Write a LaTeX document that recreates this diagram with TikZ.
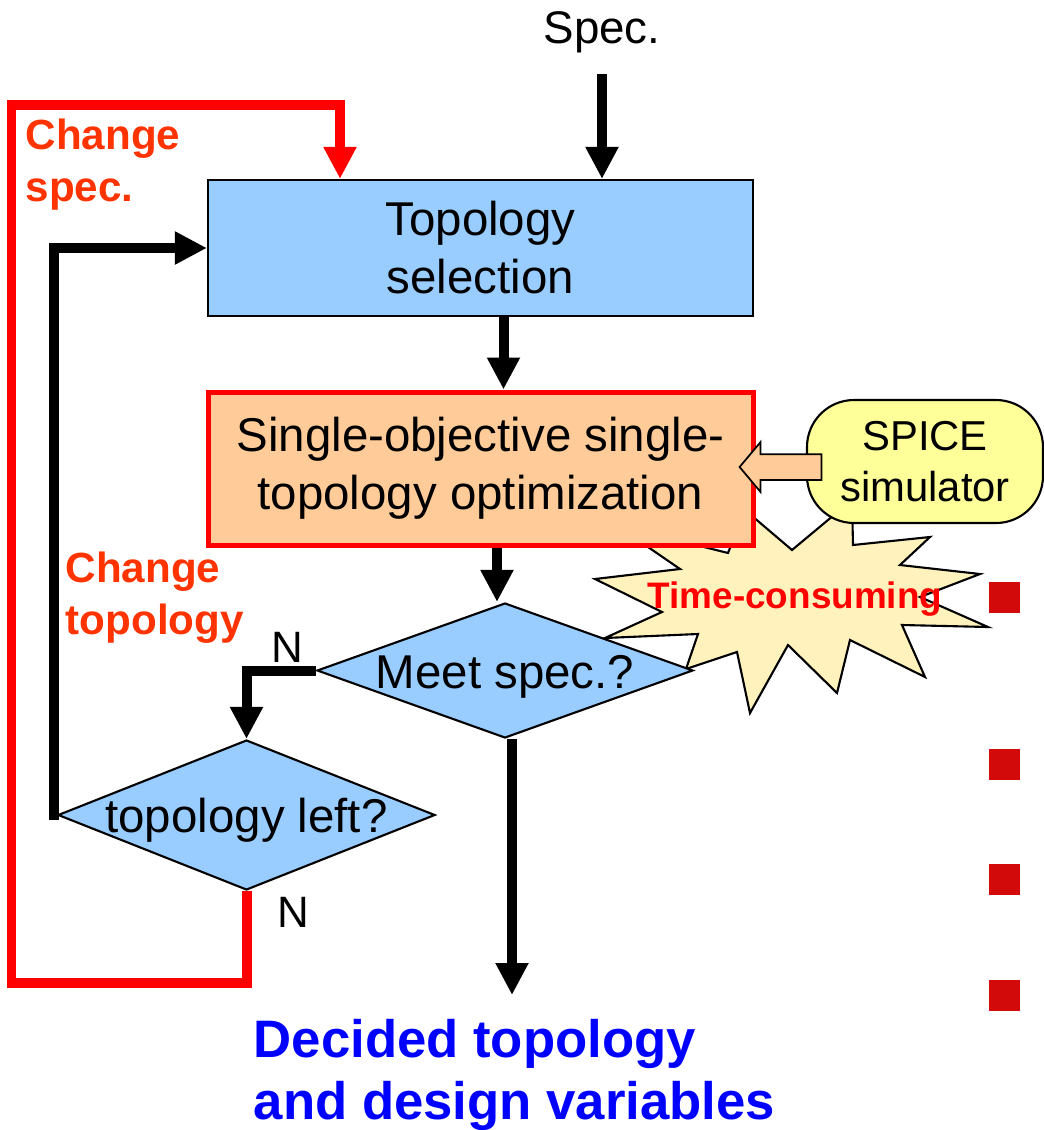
\documentclass[tikz,border=0pt]{standalone}
\usepackage{fontspec}
\setmainfont{Liberation Sans}
\usepackage{tikz}
\usetikzlibrary{arrows.meta, shapes.geometric, shapes.arrows, positioning}
\definecolor{boxblue}{RGB}{153,204,255}
\definecolor{boxpeach}{RGB}{255,204,153}
\definecolor{simyellow}{RGB}{255,255,153}
\definecolor{burst}{RGB}{255,242,189}
\definecolor{labelred}{RGB}{255,51,0}
\definecolor{bulletred}{RGB}{210,10,10}
\tikzset{process/.style={rectangle, draw=black, line width=0.6pt, fill=boxblue, minimum width=54.5mm, align=center, font=\fontsize{13.5pt}{16.5pt}\selectfont}}
\tikzset{decision/.style={diamond, draw=black, line width=0.6pt, fill=boxblue, inner sep=0pt, aspect=2.7, text height=10pt, text depth=0pt, font=\fontsize{13.5pt}{16.5pt}\selectfont}}
\tikzset{tool/.style={rectangle, rounded corners=4.7mm, draw=black, line width=0.6pt, fill=simyellow, minimum width=23.6mm, minimum height=12.3mm, align=center, font=\fontsize{11.9pt}{14.5pt}\selectfont}}
\tikzset{feed/.style={single arrow, draw=black, line width=0.5pt, fill=boxpeach, shape border rotate=180, minimum height=8.2mm, inner sep=1.2mm, single arrow head extend=1.2mm, single arrow tip angle=100}}
\tikzset{note/.style={text=labelred, align=left, inner sep=0pt, font=\fontsize{12pt}{14.8pt}\selectfont\bfseries}}
\tikzset{result/.style={text=blue, align=left, inner sep=0pt, font=\fontsize{15pt}{17.9pt}\selectfont\bfseries}}
\tikzset{flow/.style={line width=1mm, -{Triangle[width=3.1mm,length=3.2mm]}}}
\tikzset{redflow/.style={flow, red}}

\begin{document}
\begin{tikzpicture}[x=0.1mm, y=-0.1mm]
		\useasboundingbox (0,0) rectangle (1043,1130);

		% star behind the optimizer
		\filldraw[fill=burst, draw=black, line width=0.6pt]
			(595,579) -- (680,569) -- (616,525) -- (728,553) -- (745,510) -- (792,550)
			-- (852,500) -- (853,545) -- (930,537) -- (900,565) -- (980,574) -- (920,597)
			-- (988,627) -- (902,625) -- (925,677) -- (850,640) -- (837,693) -- (788,645)
			-- (750,713) -- (737,652) -- (686,669) -- (698,634) -- (605,638) -- (662,612) -- cycle;

		\node[anchor=base, inner sep=0pt, font=\fontsize{13pt}{15pt}\selectfont] at (602,43) (spec) {Spec.};
		\node[process, minimum height=13.6mm] at (480.5,248) (topo) {Topology\\selection};
		\node[process, draw=red, line width=0.5mm, fill=boxpeach, minimum height=15.3mm] at (480.5,468.5) (opt) {Single-objective single-\\topology optimization};
		\node[decision, minimum width=37.6mm, minimum height=13.5mm] at (505,670.5) (meet) {Meet spec.?};
		\node[decision, minimum width=37.7mm, minimum height=15mm] at (246.5,815) (left) {topology left?};
		\node[tool] at (925,461.5) (spice) {SPICE\\simulator};
		\node[feed] at (786,467) (feedarrow) {};
		\coordinate (out) at (512,995);

		\draw[flow] (spec.south) ++(0,21) -- (spec.south |- topo.north);
		\draw[flow] ([xshift=2.3mm]topo.south) -- ([xshift=2.3mm]opt.north);
		\draw[flow] ([xshift=1.65mm]opt.south) -- ([xshift=1.65mm]opt.south |- meet.north);
		\draw[flow] (meet.south -| out) -- (out);
		\draw[flow] (meet.west) -| (left.north);
		\draw[flow] ([shift={(-3,5)}]left.west) |- (topo.west);
		\draw[redflow] (left.south) -- ++(0,92) -| ++(-235,-878) -| ([xshift=-14.05mm]topo.north);

		\node[font=\fontsize{12.5pt}{15pt}\selectfont] at (287,647) (n1) {N};
		\node[font=\fontsize{12.5pt}{15pt}\selectfont] at (293,912) (n2) {N};
		\node[note, anchor=west] at (25,165) (chspec) {Change\\spec.};
		\node[note, anchor=west] at (65,598) (chtopo) {Change\\topology};
		\node[text=red, font=\fontsize{10.5pt}{12pt}\selectfont\bfseries] at (795,599.5) (slow) {Time-consuming};
		\node[result, anchor=west] at (253,1075) (decided) {Decided topology\\and design variables};

		\foreach \y in {582,749,864,980}
			\fill[bulletred] (989,\y) rectangle ++(31,31);
\end{tikzpicture}
\end{document}
